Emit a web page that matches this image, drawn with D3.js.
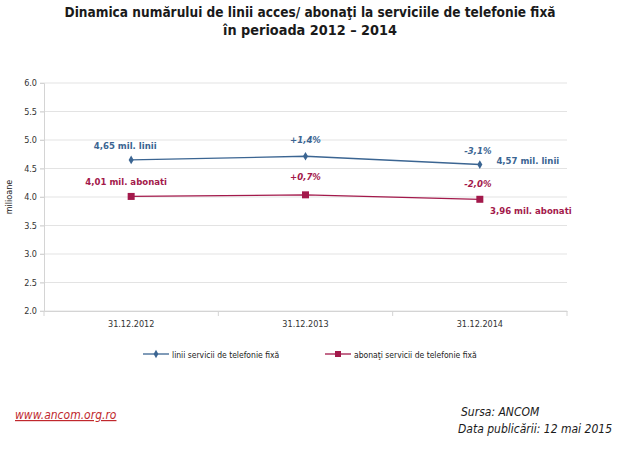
<!DOCTYPE html>
<html>
<head>
<meta charset="utf-8">
<script src="https://cdn.jsdelivr.net/npm/d3@7"></script>
<style>
  body { margin: 0; background: #fff; }
  text { font-family: "DejaVu Sans Condensed", "DejaVu Sans", sans-serif; }
</style>
</head>
<body>
<div id="chart"></div>
<script>
const categories = ["31.12.2012", "31.12.2013", "31.12.2014"];
const liniiValues = [4.65, 4.715, 4.57];
const abonatiValues = [4.01, 4.038, 3.96];
const liniiLabels = ["4,65 mil. linii", "+1,4%", "-3,1%", "4,57 mil. linii"];
const abonatiLabels = ["4,01 mil. abonati", "+0,7%", "-2,0%", "3,96 mil. abonati"];
const yTicks = [2.0, 2.5, 3.0, 3.5, 4.0, 4.5, 5.0, 5.5, 6.0];
const seriesNames = ["linii servicii de telefonie fixă", "abonaţi servicii de telefonie fixă"];

const width = 620, height = 452;
const blue = "#3b6592", red = "#a3194b";

const svg = d3.select("#chart").append("svg").attr("width", width).attr("height", height);

const x = d3.scaleBand().domain(categories).range([44, 567]);
const y = d3.scaleLinear().domain([2, 6]).range([311, 83]);
const cx = d => x(d) + x.bandwidth() / 2;

// title
svg.append("text").attr("x", 310).attr("y", 17).attr("text-anchor", "middle")
  .attr("font-size", 14.5).attr("font-weight", "bold").attr("fill", "#1a1a1a")
  .attr("textLength", 491).attr("lengthAdjust", "spacingAndGlyphs")
  .text("Dinamica numărului de linii acces/ abonaţi la serviciile de telefonie fixă");
svg.append("text").attr("x", 310).attr("y", 35).attr("text-anchor", "middle")
  .attr("font-size", 14.5).attr("font-weight", "bold").attr("fill", "#1a1a1a")
  .attr("textLength", 174).attr("lengthAdjust", "spacingAndGlyphs")
  .text("în perioada 2012 – 2014");

// gridlines
svg.append("g").selectAll("line").data(yTicks).enter().append("line")
  .attr("x1", 40).attr("x2", 567)
  .attr("y1", d => y(d)).attr("y2", d => y(d))
  .attr("stroke", "#e3e3e3");

// y axis
const yAxis = svg.append("g").attr("transform", "translate(44,0)")
  .call(d3.axisLeft(y).tickValues(yTicks).tickFormat(d3.format(".1f")).tickSize(4));
yAxis.select(".domain").attr("stroke", "#d4d4d4");
yAxis.selectAll(".tick line").attr("stroke", "#d4d4d4");
yAxis.selectAll(".tick text").attr("font-size", 9).attr("fill", "#333")
  .style("font-family", "'DejaVu Sans Condensed', sans-serif");

// x axis
const xAxis = svg.append("g").attr("transform", "translate(0,311)")
  .call(d3.axisBottom(x).tickSize(0).tickPadding(10));
xAxis.select(".domain").attr("stroke", "#d4d4d4");
xAxis.selectAll(".tick text").attr("font-size", 9).attr("fill", "#333")
  .style("font-family", "'DejaVu Sans Condensed', sans-serif");
svg.append("g").selectAll("line").data(categories.concat(["end"])).enter().append("line")
  .attr("x1", (d, i) => 44 + i * x.bandwidth()).attr("x2", (d, i) => 44 + i * x.bandwidth())
  .attr("y1", 311).attr("y2", 316).attr("stroke", "#d4d4d4");

svg.append("text").attr("transform", "translate(12,197) rotate(-90)")
  .attr("text-anchor", "middle").attr("font-size", 9).attr("fill", "#222")
  .text("milioane");

const line = d3.line().x((d, i) => cx(categories[i])).y(d => y(d));

// linii series
svg.append("path").datum(liniiValues).attr("d", line)
  .attr("fill", "none").attr("stroke", blue).attr("stroke-width", 1.3);
svg.append("g").selectAll("path").data(liniiValues).enter().append("path")
  .attr("d", d3.symbol().type(d3.symbolDiamond).size(22))
  .attr("transform", (d, i) => `translate(${cx(categories[i])},${y(d)})`)
  .attr("fill", blue);

// abonati series
svg.append("path").datum(abonatiValues).attr("d", line)
  .attr("fill", "none").attr("stroke", red).attr("stroke-width", 1.3);
svg.append("g").selectAll("rect").data(abonatiValues).enter().append("rect")
  .attr("x", (d, i) => cx(categories[i]) - 3.5).attr("y", d => y(d) - 3.5)
  .attr("width", 7).attr("height", 7).attr("fill", red);

// data labels
function addLabel(txt, px, py, color, italic) {
  svg.append("text").attr("x", px).attr("y", py).attr("text-anchor", "middle")
    .attr("font-size", 9.5).attr("font-weight", "bold")
    .attr("font-style", italic ? "italic" : "normal")
    .attr("fill", color).text(txt);
}
addLabel(liniiLabels[0], cx(categories[0]) - 6, y(liniiValues[0]) - 11, blue, false);
addLabel(liniiLabels[1], cx(categories[1]), y(liniiValues[1]) - 13, blue, true);
addLabel(liniiLabels[2], cx(categories[2]) - 2, y(liniiValues[2]) - 11, blue, true);
addLabel(liniiLabels[3], cx(categories[2]) + 48, y(liniiValues[2]) - 1, blue, false);
addLabel(abonatiLabels[0], cx(categories[0]) - 5, y(abonatiValues[0]) - 11, red, false);
addLabel(abonatiLabels[1], cx(categories[1]), y(abonatiValues[1]) - 15, red, true);
addLabel(abonatiLabels[2], cx(categories[2]) - 2, y(abonatiValues[2]) - 12, red, true);
addLabel(abonatiLabels[3], cx(categories[2]) + 51, y(abonatiValues[2]) + 15, red, false);

// legend
const legend = svg.append("g").attr("transform", "translate(0,354)");
[[143, blue, "diamond"], [325, red, "square"]].forEach((l, i) => {
  legend.append("line").attr("x1", l[0]).attr("x2", l[0] + 26).attr("y1", 0).attr("y2", 0)
    .attr("stroke", l[1]).attr("stroke-width", 1.3);
  if (l[2] === "diamond") {
    legend.append("path").attr("d", d3.symbol().type(d3.symbolDiamond).size(20))
      .attr("transform", `translate(${l[0] + 13},0)`).attr("fill", l[1]);
  } else {
    legend.append("rect").attr("x", l[0] + 10).attr("y", -3).attr("width", 6).attr("height", 6).attr("fill", l[1]);
  }
  legend.append("text").attr("x", l[0] + 29).attr("y", 3.5).attr("font-size", 8.5).attr("fill", "#222")
    .text(seriesNames[i]);
});

// footer
svg.append("text").attr("x", 15).attr("y", 419).attr("font-size", 12).attr("font-style", "italic")
  .attr("fill", "#c0282d").attr("text-decoration", "underline").text("www.ancom.org.ro");
svg.append("text").attr("x", 461).attr("y", 416).attr("font-size", 12).attr("font-style", "italic")
  .attr("fill", "#1a1a1a").text("Sursa: ANCOM");
svg.append("text").attr("x", 458).attr("y", 433).attr("font-size", 12).attr("font-style", "italic")
  .attr("fill", "#1a1a1a").text("Data publicării: 12 mai 2015");
</script>
</body>
</html>
